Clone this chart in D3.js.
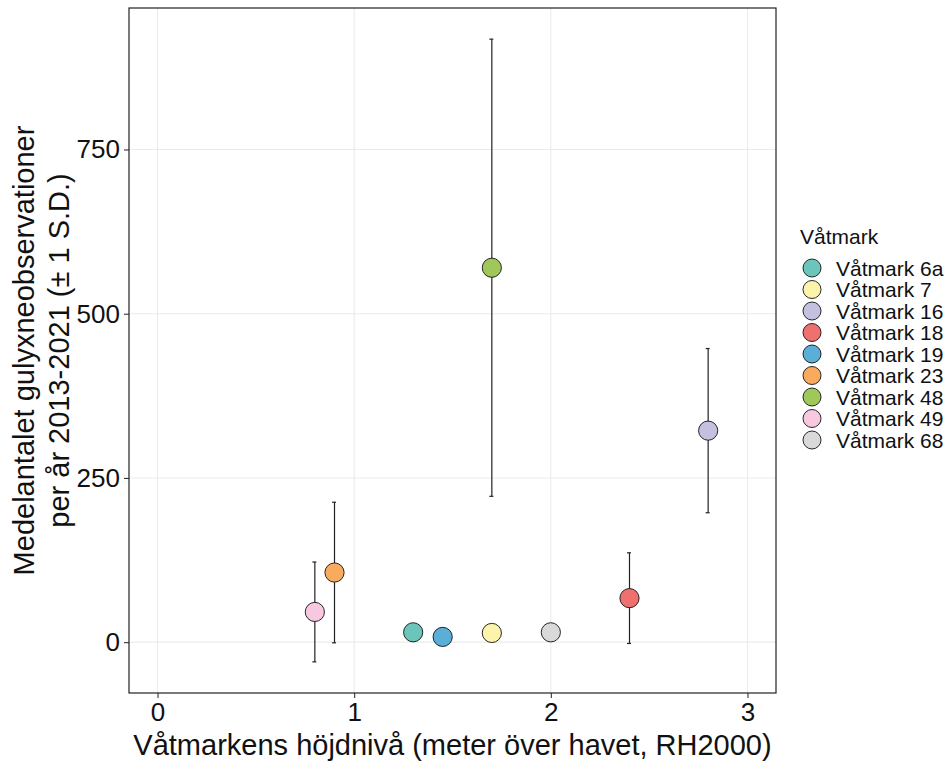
<!DOCTYPE html>
<html>
<head>
<meta charset="utf-8">
<script src="https://cdn.jsdelivr.net/npm/d3@7"></script>
<style>
  html, body { margin: 0; padding: 0; background: #fff; }
  svg { display: block; font-family: "Liberation Sans", Arial, sans-serif; }
</style>
</head>
<body>
<svg id="chart" width="947" height="762"></svg>
<script>
// Wetland names, elevation (m a.s.l., RH2000), mean yearly observations and SD
const wetlands = ["Våtmark 6a", "Våtmark 7", "Våtmark 16", "Våtmark 18", "Våtmark 19",
                  "Våtmark 23", "Våtmark 48", "Våtmark 49", "Våtmark 68"];
const elevation = [1.3, 1.7, 2.8, 2.4, 1.45, 0.9, 1.7, 0.8, 2.0];
const meanObs   = [15, 14, 322, 67, 8, 106, 570, 46, 15];
const sdObs     = [null, null, 125, 69, null, 107, 348, 76, null];
const colors    = ["#6cc5ba", "#fcf4ab", "#c3c0e0", "#ee7170", "#5aaed8",
                   "#f8aa5e", "#9fc75a", "#f7c8df", "#d9d9d9"];
const xTicks = [0, 1, 2, 3];
const yTicks = [0, 250, 500, 750];

const data = wetlands.map((name, i) => ({
  name, x: elevation[i], y: meanObs[i], sd: sdObs[i], color: colors[i]
}));

const svg = d3.select("#chart");
const panel = { left: 129, right: 776, top: 8, bottom: 693 };

// Y range covers the error bar extents with 5% padding
const lows  = data.map(d => d.sd == null ? d.y : d.y - d.sd);
const highs = data.map(d => d.sd == null ? d.y : d.y + d.sd);
const yMin = d3.min(lows), yMax = d3.max(highs);
const pad = (yMax - yMin) * 0.05;

const x = d3.scaleLinear().domain([-0.145, 3.145]).range([panel.left, panel.right]);
const y = d3.scaleLinear().domain([yMin - pad, yMax + pad]).range([panel.bottom, panel.top]);

// grid
const grid = svg.append("g");
grid.selectAll("line.gx").data(xTicks).join("line")
  .attr("x1", d => x(d)).attr("x2", d => x(d))
  .attr("y1", panel.top).attr("y2", panel.bottom)
  .attr("stroke", "#ebebeb").attr("stroke-width", 1.1);
grid.selectAll("line.gy").data(yTicks).join("line")
  .attr("y1", d => y(d)).attr("y2", d => y(d))
  .attr("x1", panel.left).attr("x2", panel.right)
  .attr("stroke", "#ebebeb").attr("stroke-width", 1.1);

// axes
const xAxis = svg.append("g")
  .attr("transform", `translate(0,${panel.bottom})`)
  .call(d3.axisBottom(x).tickValues(xTicks).tickFormat(d3.format("d")).tickSize(5).tickPadding(5));
const yAxis = svg.append("g")
  .attr("transform", `translate(${panel.left},0)`)
  .call(d3.axisLeft(y).tickValues(yTicks).tickFormat(d3.format("d")).tickSize(5).tickPadding(4));
[xAxis, yAxis].forEach(g => {
  g.select(".domain").remove();
  g.selectAll(".tick line").attr("stroke", "#333").attr("stroke-width", 1.1);
  g.selectAll(".tick text").attr("fill", "#111").style("font-size", "26px")
    .style("font-family", "'Liberation Sans', Arial, sans-serif");
});

// panel border
svg.append("rect")
  .attr("x", panel.left).attr("y", panel.top)
  .attr("width", panel.right - panel.left).attr("height", panel.bottom - panel.top)
  .attr("fill", "none").attr("stroke", "#222").attr("stroke-width", 1.2);

// error bars
const eb = svg.append("g").attr("stroke", "#222").attr("stroke-width", 1.2);
const withSd = data.filter(d => d.sd != null);
eb.selectAll("line.v").data(withSd).join("line")
  .attr("x1", d => x(d.x)).attr("x2", d => x(d.x))
  .attr("y1", d => y(d.y - d.sd)).attr("y2", d => y(d.y + d.sd));
["lo", "hi"].forEach(k => {
  eb.selectAll("line.c" + k).data(withSd).join("line")
    .attr("x1", d => x(d.x) - 2.5).attr("x2", d => x(d.x) + 1.5)
    .attr("y1", d => y(k === "lo" ? d.y - d.sd : d.y + d.sd))
    .attr("y2", d => y(k === "lo" ? d.y - d.sd : d.y + d.sd));
});

// points
svg.append("g").selectAll("circle").data(data).join("circle")
  .attr("cx", d => x(d.x)).attr("cy", d => y(d.y)).attr("r", 9.6)
  .attr("fill", d => d.color).attr("stroke", "#111").attr("stroke-width", 0.9);

// axis titles
svg.append("text")
  .attr("x", (panel.left + panel.right) / 2).attr("y", 755)
  .attr("text-anchor", "middle").style("font-size", "29px").attr("fill", "#111")
  .text("Våtmarkens höjdnivå (meter över havet, RH2000)");
const yt = svg.append("text")
  .attr("transform", `translate(0,${(panel.top + panel.bottom) / 2}) rotate(-90)`)
  .attr("text-anchor", "middle").style("font-size", "29px").attr("fill", "#111");
yt.append("tspan").attr("x", 0).attr("y", 34).text("Medelantalet gulyxneobservationer");
yt.append("tspan").attr("x", 0).attr("y", 69).text("per år 2013-2021 (± 1 S.D.)");

// legend
const lg = svg.append("g");
lg.append("text").attr("x", 800).attr("y", 244).style("font-size", "21px").attr("fill", "#111").text("Våtmark");
const items = lg.selectAll("g.item").data(data).join("g")
  .attr("transform", (d, i) => `translate(0,${268 + i * 21.5})`);
items.append("circle").attr("cx", 812).attr("cy", 0).attr("r", 9)
  .attr("fill", d => d.color).attr("stroke", "#111").attr("stroke-width", 0.9);
items.append("text").attr("x", 836).attr("y", 7.5).style("font-size", "21px").attr("fill", "#111")
  .text(d => d.name);
</script>
</body>
</html>
